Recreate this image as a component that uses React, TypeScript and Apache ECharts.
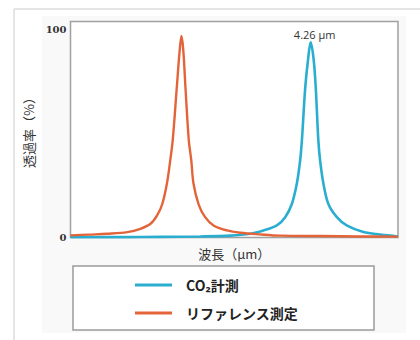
import React, { useEffect, useRef } from "react";
import * as echarts from "echarts";

const co2Name = "CO₂計測";
const refName = "リファレンス測定";

const refX = [3.6, 3.65, 3.701, 3.756, 3.792, 3.82, 3.838, 3.852, 3.865, 3.874, 3.881, 3.892, 3.9, 3.905, 3.91, 3.916, 3.925, 3.932, 3.938, 3.952, 3.97, 3.993, 4.03, 4.067, 4.121, 4.176, 4.286, 4.396, 4.5];
const refY = [1.0, 1.4, 1.8, 2.6, 4.2, 6.6, 10.6, 16, 26, 37, 47, 72, 90, 97, 90, 72, 47, 37, 26, 16, 9.8, 5.8, 3.4, 2.3, 1.5, 0.9, 0.7, 0.5, 0.4];

const co2X = [3.6, 3.75, 3.847, 3.957, 4.039, 4.094, 4.13, 4.167, 4.19, 4.208, 4.222, 4.231, 4.236, 4.245, 4.253, 4.26, 4.268, 4.274, 4.281, 4.286, 4.295, 4.309, 4.332, 4.359, 4.405, 4.451, 4.5];
const co2Y = [0.2, 0.2, 0.3, 0.5, 0.9, 1.8, 3.4, 5.8, 9.8, 16, 26, 37, 47, 72, 86, 94, 86, 72, 47, 37, 26, 16, 9.8, 5.8, 2.6, 1.4, 0.5];

const yTickLabels = [0, 100];
const peakLabel = "4.26 μm";
const peakX = 4.26;
const peakY = 94;

const BLUE = "#2aaed0";
const ORANGE = "#e4643a";
const CJK = "'Noto Sans CJK JP', 'Noto Sans', sans-serif";

export default function App() {
  const ref = useRef<HTMLDivElement>(null);
  useEffect(() => {
    if (!ref.current) return;
    const chart = echarts.init(ref.current, undefined, { renderer: "svg" });
    chart.setOption({
      animation: false,
      backgroundColor: "#ffffff",
      grid: {
        left: 70.5,
        right: 22,
        top: 21.5,
        bottom: 102.5,
        show: true,
        borderColor: "#a0a0a0",
        borderWidth: 1.5,
        backgroundColor: "#ffffff",
      },
      graphic: [
        { type: "rect", z: -10, shape: { x: 42, y: 16, width: 364, height: 317 }, style: { fill: "#f9f9f9" } },
        { type: "line", shape: { x1: 14, y1: 9, x2: 420, y2: 9 }, style: { stroke: "#dcdcdc", lineWidth: 1.5 } },
        { type: "line", shape: { x1: 14, y1: 9, x2: 14, y2: 340 }, style: { stroke: "#dcdcdc", lineWidth: 1.5 } },
        { type: "rect", z: 1, shape: { x: 73, y: 266, width: 301, height: 64 }, style: { fill: "#ffffff", stroke: "#9a9a9a", lineWidth: 1.5 } },
      ],
      legend: {
        orient: "vertical",
        left: 135,
        top: 278,
        padding: 0,
        itemWidth: 37,
        itemHeight: 3,
        itemGap: 14,
        z: 5,
        data: [
          { name: co2Name, icon: "rect" },
          { name: refName, icon: "rect" },
        ],
        textStyle: {
          fontFamily: CJK,
          fontSize: 14,
          fontWeight: "bold",
          color: "#222",
          lineHeight: 14,
          padding: [0, 0, 0, 9],
        },
      },
      xAxis: {
        type: "value",
        min: 3.6,
        max: 4.5,
        name: "波長（μm）",
        nameLocation: "middle",
        nameGap: 9,
        nameTextStyle: { fontFamily: CJK, fontSize: 13, color: "#333", verticalAlign: "top" },
        axisLine: { show: false },
        axisTick: { show: false },
        axisLabel: { show: false },
        splitLine: { show: false },
      },
      yAxis: {
        type: "value",
        min: 0,
        max: 104,
        interval: 100,
        name: "透過率（%）",
        nameLocation: "middle",
        nameGap: 7,
        nameTextStyle: { fontFamily: CJK, fontSize: 13, color: "#333", verticalAlign: "bottom" },
        axisLine: { show: false },
        axisTick: { show: false },
        splitLine: { show: false },
        axisLabel: {
          margin: 4,
          fontFamily: "'DejaVu Serif', serif",
          fontWeight: "bold",
          fontSize: 10,
          color: "#333",
          formatter: (v: number) => (yTickLabels.includes(v) ? String(v) : ""),
        },
      },
      series: [
        {
          name: co2Name,
          type: "line",
          data: co2X.map((x, i) => [x, co2Y[i]]),
          symbol: "none",
          smooth: 0.35,
          lineStyle: { color: BLUE, width: 2.6 },
          itemStyle: { color: BLUE },
          markPoint: {
            symbol: "circle",
            symbolSize: 0,
            data: [{ coord: [peakX, peakY] }],
            label: {
              show: true,
              position: "top",
              distance: 2,
              offset: [4, 0],
              formatter: peakLabel,
              fontFamily: "'Open Sans', sans-serif",
              fontSize: 11,
              color: "#333",
            },
          },
        },
        {
          name: refName,
          type: "line",
          data: refX.map((x, i) => [x, refY[i]]),
          symbol: "none",
          smooth: 0.35,
          lineStyle: { color: ORANGE, width: 2.4 },
          itemStyle: { color: ORANGE },
        },
      ],
    });
    return () => chart.dispose();
  }, []);
  return (
    <div
      ref={ref}
      style={{ position: "fixed", left: 0, top: 0, width: 420, height: 340 }}
    />
  );
}
